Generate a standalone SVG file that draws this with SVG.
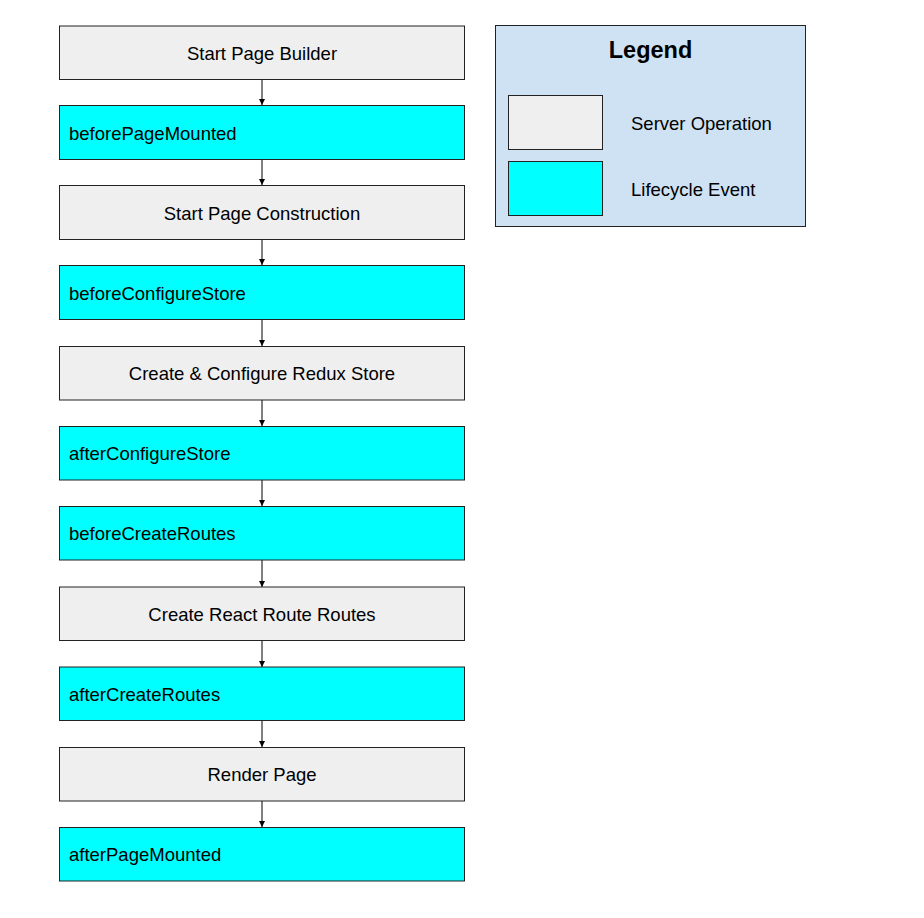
<svg xmlns="http://www.w3.org/2000/svg" width="924" height="918" viewBox="0 0 924 918">
<defs>
<style>
.op{fill:#efefef;stroke:#222;stroke-width:1}
.ev{fill:#00ffff;stroke:#222;stroke-width:1}
.t{font-family:"Liberation Sans",Arial,sans-serif;font-size:18.5px;fill:#000}
.c{text-anchor:middle}
.conn{stroke:#000;stroke-width:1;fill:none;marker-end:url(#ah)}
</style>
<marker id="ah" viewBox="0 0 6 6" refX="6" refY="3" markerWidth="6" markerHeight="6" markerUnits="userSpaceOnUse" orient="auto">
<path d="M0,0 L6,3 L0,6 Z" fill="#000"/>
</marker>
</defs>
<rect width="924" height="918" fill="#fff"/>
<g id="connectors">
<line class="conn" x1="262" y1="79.5" x2="262" y2="105"/>
<line class="conn" x1="262" y1="159.5" x2="262" y2="185"/>
<line class="conn" x1="262" y1="239.5" x2="262" y2="265"/>
<line class="conn" x1="262" y1="319.5" x2="262" y2="346"/>
<line class="conn" x1="262" y1="400" x2="262" y2="426"/>
<line class="conn" x1="262" y1="480" x2="262" y2="506"/>
<line class="conn" x1="262" y1="560" x2="262" y2="587"/>
<line class="conn" x1="262" y1="640.5" x2="262" y2="667"/>
<line class="conn" x1="262" y1="720.5" x2="262" y2="747"/>
<line class="conn" x1="262" y1="801" x2="262" y2="827"/>
</g>
<g id="n1"><rect class="op" x="59.5" y="26" width="405" height="53.5"/><text class="t c" x="262" y="59.5">Start Page Builder</text></g>
<g id="n2"><rect class="ev" x="59.5" y="105.5" width="405" height="54"/><text class="t" x="69" y="139.5">beforePageMounted</text></g>
<g id="n3"><rect class="op" x="59.5" y="185.5" width="405" height="54"/><text class="t c" x="262" y="219.5">Start Page Construction</text></g>
<g id="n4"><rect class="ev" x="59.5" y="265.5" width="405" height="54"/><text class="t" x="69" y="299.5">beforeConfigureStore</text></g>
<g id="n5"><rect class="op" x="59.5" y="346.5" width="405" height="53.5"/><text class="t c" x="262" y="380">Create &amp; Configure Redux Store</text></g>
<g id="n6"><rect class="ev" x="59.5" y="426.5" width="405" height="53.5"/><text class="t" x="69" y="460">afterConfigureStore</text></g>
<g id="n7"><rect class="ev" x="59.5" y="506.5" width="405" height="53.5"/><text class="t" x="69" y="540">beforeCreateRoutes</text></g>
<g id="n8"><rect class="op" x="59.5" y="587" width="405" height="53.5"/><text class="t c" x="262" y="620.5">Create React Route Routes</text></g>
<g id="n9"><rect class="ev" x="59.5" y="667" width="405" height="53.5"/><text class="t" x="69" y="700.5">afterCreateRoutes</text></g>
<g id="n10"><rect class="op" x="59.5" y="747.5" width="405" height="53.5"/><text class="t c" x="262" y="781">Render Page</text></g>
<g id="n11"><rect class="ev" x="59.5" y="827.5" width="405" height="53.5"/><text class="t" x="69" y="861">afterPageMounted</text></g>
<g id="legend">
<rect x="495.5" y="25.5" width="310" height="201" fill="#cfe2f3" stroke="#222" stroke-width="1"/>
<text class="t c" x="650.5" y="58" style="font-size:23.5px;font-weight:bold">Legend</text>
<rect class="op" x="508.5" y="95.5" width="94" height="54"/>
<text class="t" x="631" y="130">Server Operation</text>
<rect class="ev" x="508.5" y="161.5" width="94" height="54"/>
<text class="t" x="631" y="196">Lifecycle Event</text>
</g>
</svg>
